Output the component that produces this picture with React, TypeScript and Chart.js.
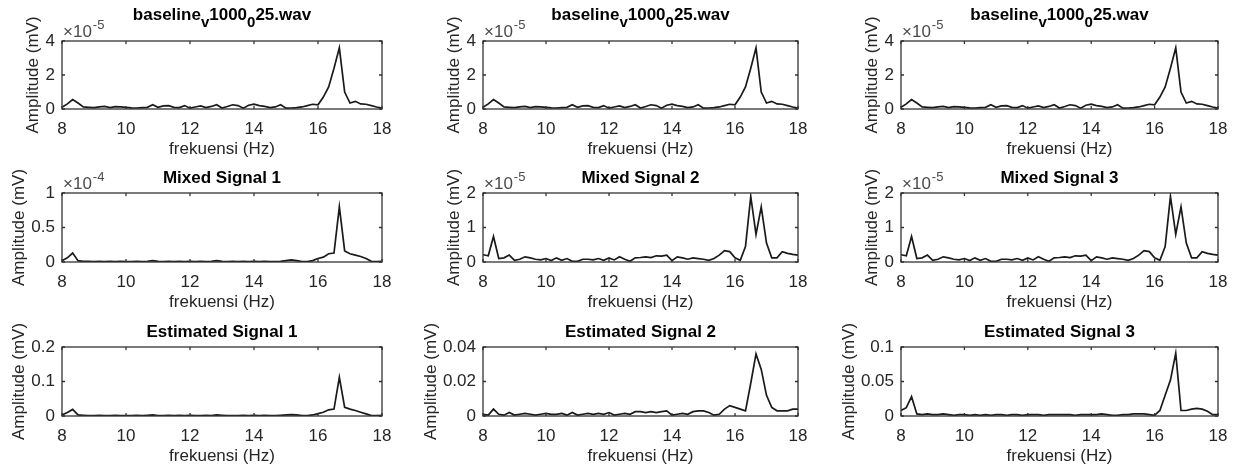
import React, { useEffect, useRef } from 'react';
import { Chart, registerables } from 'chart.js';

Chart.register(...registerables);

// Frequency grid (Hz), 1/6 Hz resolution
const FREQ_HZ = [
  8, 8.167, 8.333, 8.5, 8.667, 8.833, 9, 9.167, 9.333, 9.5,
  9.667, 9.833, 10, 10.167, 10.333, 10.5, 10.667, 10.833, 11, 11.167,
  11.333, 11.5, 11.667, 11.833, 12, 12.167, 12.333, 12.5, 12.667, 12.833,
  13, 13.167, 13.333, 13.5, 13.667, 13.833, 14, 14.167, 14.333, 14.5,
  14.667, 14.833, 15, 15.167, 15.333, 15.5, 15.667, 15.833, 16, 16.167,
  16.333, 16.5, 16.667, 16.833, 17, 17.167, 17.333, 17.5, 17.667, 17.833, 18,
];

// baseline_v1000_025.wav amplitude (x 1e-5 mV)
const BASELINE = [
  0.10, 0.30, 0.55, 0.35, 0.12, 0.10, 0.08, 0.12, 0.15, 0.08,
  0.14, 0.12, 0.10, 0.07, 0.06, 0.08, 0.10, 0.25, 0.10, 0.18,
  0.20, 0.10, 0.08, 0.20, 0.05, 0.12, 0.18, 0.08, 0.15, 0.25,
  0.06, 0.15, 0.25, 0.20, 0.05, 0.22, 0.28, 0.20, 0.15, 0.08,
  0.12, 0.25, 0.05, 0.06, 0.08, 0.12, 0.20, 0.28, 0.25, 0.70,
  1.30, 2.40, 3.60, 1.00, 0.35, 0.45, 0.30, 0.28, 0.20, 0.12, 0.05,
];

// Mixed Signal 1 (x 1e-4 mV)
const MIXED_1 = [
  0.02, 0.06, 0.13, 0.02, 0.01, 0.01, 0.005, 0.01, 0.005, 0.01,
  0.005, 0.01, 0.005, 0.005, 0.01, 0.005, 0.01, 0.02, 0.01, 0.005,
  0.01, 0.005, 0.01, 0.005, 0.01, 0.005, 0.01, 0.005, 0.01, 0.02,
  0.01, 0.005, 0.01, 0.005, 0.01, 0.005, 0.01, 0.005, 0.01, 0.005,
  0.005, 0.01, 0.02, 0.03, 0.02, 0.005, 0.005, 0.02, 0.05, 0.07,
  0.12, 0.13, 0.80, 0.16, 0.12, 0.10, 0.08, 0.05, 0.01, 0.005, 0.01,
];

// Mixed Signal 2 (x 1e-5 mV)
const MIXED_2 = [
  0.21, 0.18, 0.74, 0.10, 0.12, 0.20, 0.05, 0.08, 0.15, 0.12,
  0.08, 0.06, 0.10, 0.04, 0.12, 0.05, 0.10, 0.02, 0.02, 0.08,
  0.08, 0.06, 0.10, 0.05, 0.12, 0.06, 0.15, 0.08, 0.02, 0.12,
  0.13, 0.15, 0.13, 0.18, 0.17, 0.20, 0.04, 0.15, 0.12, 0.08,
  0.12, 0.10, 0.08, 0.05, 0.10, 0.20, 0.33, 0.30, 0.12, 0.05,
  0.45, 1.90, 0.80, 1.60, 0.55, 0.12, 0.12, 0.30, 0.25, 0.22, 0.20,
];

// Mixed Signal 3 (x 1e-5 mV)
const MIXED_3 = [
  0.21, 0.18, 0.74, 0.10, 0.12, 0.20, 0.05, 0.08, 0.15, 0.12,
  0.08, 0.06, 0.10, 0.04, 0.12, 0.05, 0.10, 0.02, 0.02, 0.08,
  0.08, 0.06, 0.10, 0.05, 0.12, 0.06, 0.15, 0.08, 0.02, 0.12,
  0.13, 0.15, 0.13, 0.18, 0.17, 0.20, 0.04, 0.15, 0.12, 0.08,
  0.12, 0.10, 0.08, 0.05, 0.10, 0.20, 0.33, 0.30, 0.12, 0.05,
  0.45, 1.90, 0.80, 1.60, 0.55, 0.12, 0.12, 0.30, 0.25, 0.22, 0.20,
];

// Estimated Signal 1 (mV)
const ESTIMATED_1 = [
  0.003, 0.01, 0.019, 0.003, 0.002, 0.001, 0.001, 0.002, 0.001, 0.001,
  0.002, 0.001, 0.001, 0.001, 0.002, 0.001, 0.002, 0.003, 0.001, 0.001,
  0.002, 0.001, 0.002, 0.001, 0.002, 0.001, 0.001, 0.002, 0.001, 0.003,
  0.002, 0.001, 0.001, 0.001, 0.002, 0.001, 0.002, 0.001, 0.002, 0.001,
  0.001, 0.002, 0.003, 0.004, 0.003, 0.001, 0.001, 0.003, 0.007, 0.011,
  0.018, 0.02, 0.112, 0.025, 0.02, 0.016, 0.011, 0.006, 0.001, 0.001, 0.002,
];

// Estimated Signal 2 (mV)
const ESTIMATED_2 = [
  0.001, 0.0005, 0.004, 0.001, 0.0005, 0.002, 0.0005, 0.001, 0.0015, 0.001,
  0.0005, 0.001, 0.0015, 0.001, 0.001, 0.0015, 0.0005, 0.002, 0.0005, 0.001,
  0.0015, 0.001, 0.0015, 0.001, 0.002, 0.0005, 0.001, 0.0015, 0.001, 0.0025,
  0.0025, 0.002, 0.0025, 0.002, 0.0025, 0.003, 0.0005, 0.001, 0.0015, 0.001,
  0.0025, 0.003, 0.003, 0.002, 0.0005, 0.001, 0.004, 0.006, 0.005, 0.004,
  0.003, 0.019, 0.036, 0.027, 0.012, 0.005, 0.003, 0.003, 0.003, 0.004, 0.004,
];

// Estimated Signal 3 (mV)
const ESTIMATED_3 = [
  0.008, 0.012, 0.028, 0.003, 0.002, 0.003, 0.002, 0.002, 0.003, 0.002,
  0.001, 0.002, 0.002, 0.001, 0.002, 0.001, 0.002, 0.001, 0.002, 0.002,
  0.001, 0.002, 0.002, 0.001, 0.002, 0.002, 0.002, 0.001, 0.002, 0.002,
  0.002, 0.002, 0.002, 0.001, 0.002, 0.002, 0.002, 0.002, 0.003, 0.002,
  0.001, 0.001, 0.002, 0.002, 0.003, 0.003, 0.003, 0.002, 0.001, 0.008,
  0.03, 0.052, 0.091, 0.008, 0.008, 0.01, 0.011, 0.01, 0.007, 0.002, 0.002,
];

const X_TICKS = [8, 10, 12, 14, 16, 18];
const Y_TICKS_BASELINE = [0, 2, 4];
const Y_TICKS_MIXED_1 = [0, 0.5, 1];
const Y_TICKS_MIXED_23 = [0, 1, 2];
const Y_TICKS_EST_1 = [0, 0.1, 0.2];
const Y_TICKS_EST_2 = [0, 0.02, 0.04];
const Y_TICKS_EST_3 = [0, 0.05, 0.1];

const X_LABEL = 'frekuensi (Hz)';
const Y_LABEL = 'Amplitude (mV)';

type TitlePart = { text: string; sub?: boolean };
type Panel = {
  title: TitlePart[];
  values: number[];
  yTicks: number[];
  exponent?: string;
  col: number;
  row: number;
};

const BASELINE_TITLE: TitlePart[] = [
  { text: 'baseline' },
  { text: 'v', sub: true },
  { text: '1000' },
  { text: '0', sub: true },
  { text: '25.wav' },
];

const PANELS: Panel[] = [
  { title: BASELINE_TITLE, values: BASELINE, yTicks: Y_TICKS_BASELINE, exponent: '-5', col: 0, row: 0 },
  { title: BASELINE_TITLE, values: BASELINE, yTicks: Y_TICKS_BASELINE, exponent: '-5', col: 1, row: 0 },
  { title: BASELINE_TITLE, values: BASELINE, yTicks: Y_TICKS_BASELINE, exponent: '-5', col: 2, row: 0 },
  { title: [{ text: 'Mixed Signal 1' }], values: MIXED_1, yTicks: Y_TICKS_MIXED_1, exponent: '-4', col: 0, row: 1 },
  { title: [{ text: 'Mixed Signal 2' }], values: MIXED_2, yTicks: Y_TICKS_MIXED_23, exponent: '-5', col: 1, row: 1 },
  { title: [{ text: 'Mixed Signal 3' }], values: MIXED_3, yTicks: Y_TICKS_MIXED_23, exponent: '-5', col: 2, row: 1 },
  { title: [{ text: 'Estimated Signal 1' }], values: ESTIMATED_1, yTicks: Y_TICKS_EST_1, col: 0, row: 2 },
  { title: [{ text: 'Estimated Signal 2' }], values: ESTIMATED_2, yTicks: Y_TICKS_EST_2, col: 1, row: 2 },
  { title: [{ text: 'Estimated Signal 3' }], values: ESTIMATED_3, yTicks: Y_TICKS_EST_3, col: 2, row: 2 },
];

// Layout (pixels)
const COL_LEFT = [62, 483, 901];
const COL_WIDTH = [320, 315, 317];
const ROW_TOP = [41, 193, 347];
const ROW_HEIGHT = [68, 69, 69];
const TITLE_GAP = [21, 10, 10];
const PAD_TOP = 41;
const PAD_LEFT = 74;
const PAD_RIGHT = 26;
const PAD_BOTTOM = 52;

const FONT_FAMILY = '"Liberation Sans", Arial, Helvetica, sans-serif';
const TEXT_COLOR = '#262626';
const AXIS_COLOR = '#333333';
const LINE_COLOR = '#1a1a1a';
const TICK_LEN = 3;

function fmt(v: number) {
  return String(Number(v.toFixed(6)));
}

function makePlugin(p: Panel) {
  return {
    id: 'matlabAxes',
    afterDatasetsDraw(chart: any) {
      const { ctx, chartArea: a, scales } = chart;
      const xs = scales.x;
      const ys = scales.y;
      ctx.save();
      // box
      ctx.strokeStyle = AXIS_COLOR;
      ctx.lineWidth = 1.3;
      ctx.strokeRect(a.left, a.top, a.right - a.left, a.bottom - a.top);
      // inward ticks
      ctx.beginPath();
      X_TICKS.forEach((v) => {
        const px = xs.getPixelForValue(v);
        ctx.moveTo(px, a.bottom);
        ctx.lineTo(px, a.bottom - TICK_LEN);
        ctx.moveTo(px, a.top);
        ctx.lineTo(px, a.top + TICK_LEN);
      });
      p.yTicks.forEach((v) => {
        const py = ys.getPixelForValue(v);
        ctx.moveTo(a.left, py);
        ctx.lineTo(a.left + TICK_LEN, py);
        ctx.moveTo(a.right, py);
        ctx.lineTo(a.right - TICK_LEN, py);
      });
      ctx.stroke();

      // title
      const mainFont = `bold 17px ${FONT_FAMILY}`;
      const subFont = `bold 15px ${FONT_FAMILY}`;
      let total = 0;
      p.title.forEach((t) => {
        ctx.font = t.sub ? subFont : mainFont;
        total += ctx.measureText(t.text).width;
      });
      let tx = (a.left + a.right) / 2 - total / 2;
      const ty = a.top - TITLE_GAP[p.row];
      ctx.fillStyle = '#000';
      ctx.textAlign = 'left';
      ctx.textBaseline = 'alphabetic';
      p.title.forEach((t) => {
        ctx.font = t.sub ? subFont : mainFont;
        ctx.fillText(t.text, tx, t.sub ? ty + 7 : ty);
        tx += ctx.measureText(t.text).width;
      });

      // x label
      ctx.fillStyle = TEXT_COLOR;
      ctx.font = `17px ${FONT_FAMILY}`;
      ctx.textAlign = 'center';
      ctx.textBaseline = 'middle';
      ctx.fillText(X_LABEL, (a.left + a.right) / 2, a.bottom + 40);

      // y label
      let maxW = 0;
      p.yTicks.forEach((v) => {
        maxW = Math.max(maxW, ctx.measureText(fmt(v)).width);
      });
      const lx = a.left - 7 - maxW - 12;
      ctx.save();
      ctx.translate(lx, (a.top + a.bottom) / 2);
      ctx.rotate(-Math.PI / 2);
      ctx.fillText(Y_LABEL, 0, 0);
      ctx.restore();

      // exponent
      if (p.exponent) {
        ctx.fillStyle = '#4a4a4a';
        ctx.textAlign = 'left';
        ctx.textBaseline = 'alphabetic';
        ctx.font = `17px ${FONT_FAMILY}`;
        const base = '\u00d710';
        ctx.fillText(base, a.left + 1, a.top - 4);
        const w = ctx.measureText(base).width;
        ctx.font = `13px ${FONT_FAMILY}`;
        ctx.fillText(p.exponent, a.left + 1 + w + 1, a.top - 12);
      }
      ctx.restore();
    },
  };
}

function PanelChart({ p }: { p: Panel }) {
  const ref = useRef<HTMLCanvasElement>(null);
  const left = COL_LEFT[p.col];
  const width = COL_WIDTH[p.col];
  const top = ROW_TOP[p.row];
  const height = ROW_HEIGHT[p.row];
  const cw = PAD_LEFT + width + PAD_RIGHT;
  const ch = PAD_TOP + height + PAD_BOTTOM;

  useEffect(() => {
    if (!ref.current) return;
    const tickFont = { family: FONT_FAMILY, size: 17 };
    const chart = new Chart(ref.current, {
      type: 'line',
      data: {
        datasets: [
          {
            data: FREQ_HZ.map((f, i) => ({ x: f, y: p.values[i] })),
            borderColor: LINE_COLOR,
            borderWidth: 1.7,
            pointRadius: 0,
            tension: 0,
            fill: false,
          },
        ],
      },
      options: {
        animation: false,
        responsive: false,
        maintainAspectRatio: false,
        devicePixelRatio: 1,
        layout: { padding: { top: PAD_TOP, left: 0, right: PAD_RIGHT, bottom: 0 } },
        plugins: {
          legend: { display: false },
          tooltip: { enabled: false },
          title: { display: false },
        },
        scales: {
          x: {
            type: 'linear',
            min: 8,
            max: 18,
            grid: { display: false, drawTicks: false },
            border: { display: false },
            ticks: {
              font: tickFont,
              color: TEXT_COLOR,
              padding: 10,
              maxRotation: 0,
              autoSkip: false,
              callback: (v: any) => fmt(Number(v)),
            },
            afterBuildTicks: (s: any) => {
              s.ticks = X_TICKS.map((v) => ({ value: v }));
            },
            afterFit: (s: any) => {
              s.height = PAD_BOTTOM;
            },
          },
          y: {
            type: 'linear',
            min: p.yTicks[0],
            max: p.yTicks[p.yTicks.length - 1],
            grid: { display: false, drawTicks: false },
            border: { display: false },
            ticks: {
              font: tickFont,
              color: TEXT_COLOR,
              padding: 7,
              autoSkip: false,
              callback: (v: any) => fmt(Number(v)),
            },
            afterBuildTicks: (s: any) => {
              s.ticks = p.yTicks.map((v) => ({ value: v }));
            },
            afterFit: (s: any) => {
              s.width = PAD_LEFT;
            },
          },
        },
      } as any,
      plugins: [makePlugin(p)],
    });
    return () => chart.destroy();
  }, [p]);

  return (
    <canvas
      ref={ref}
      width={cw}
      height={ch}
      style={{
        position: 'absolute',
        left: left - PAD_LEFT,
        top: top - PAD_TOP,
        width: cw,
        height: ch,
      }}
    />
  );
}

export default function App() {
  return (
    <div
      style={{
        position: 'absolute',
        left: 0,
        top: 0,
        width: 1237,
        height: 472,
        background: '#ffffff',
        overflow: 'hidden',
      }}
    >
      {PANELS.map((p, i) => (
        <PanelChart key={i} p={p} />
      ))}
    </div>
  );
}
